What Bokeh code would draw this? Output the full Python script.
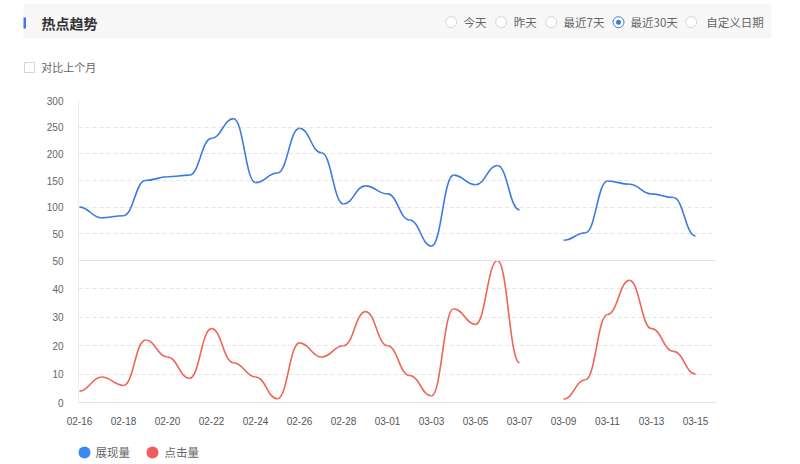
from bokeh.plotting import figure
from bokeh.models import Range1d, FixedTicker, CustomJSTickFormatter, Span
from bokeh.layouts import column
from bokeh.embed import file_html
from bokeh.resources import INLINE
from bokeh.core.properties import value

# ---------------- data ----------------
dates = ["02-16", "02-17", "02-18", "02-19", "02-20", "02-21", "02-22", "02-23",
         "02-24", "02-25", "02-26", "02-27", "02-28", "02-29", "03-01", "03-02",
         "03-03", "03-04", "03-05", "03-06", "03-07", "03-08", "03-09", "03-10",
         "03-11", "03-12", "03-13", "03-14", "03-15"]
impressions = [100, 80, 84, 150, 157, 160, 229, 266, 146, 164, 248, 202, 106, 140,
               125, 76, 27, 160, 142, 178, 95, None, 38, 52, 149, 143, 125, 118, 46]
clicks = [4, 9, 6, 22, 16, 8.5, 26, 14, 9, 1.3, 21, 16, 20, 32, 20, 9.5, 2.3, 33,
          27.5, 50, 14, None, 1.2, 8, 31, 43, 26, 18, 10]
top_ticks = [50, 100, 150, 200, 250, 300]
bottom_ticks = [0, 10, 20, 30, 40, 50]
x_tick_idx = list(range(0, len(dates), 2))
series_names = ["展现量", "点击量"]
radio_labels = ["今天", "昨天", "最近7天", "最近30天", "自定义日期"]

BLUE = "#3b7be0"
RED = "#ee6655"
CJK = value("Noto Sans CJK SC")

# ---------------- geometry of the two stacked panels ----------------
TOP_MAX, BOT_MAX = 300, 50
TOP_PX, BOT_PX = 160, 142
FRAME_PX = TOP_PX + BOT_PX
top_k = TOP_PX / TOP_MAX          # px per unit (top panel)
bot_k = BOT_PX / BOT_MAX          # px per unit (bottom panel)
main_start = TOP_MAX - FRAME_PX / top_k
bot_end = FRAME_PX / bot_k
X_PX = 22.0                       # px per day
SMOOTH = 0.45
OX = 1                            # page x of canvas origin


def smooth_bezier(xs, ys, smooth=SMOOTH):
    """Cubic segments with horizontal tangents at each data point."""
    out = dict(x0=[], y0=[], x1=[], y1=[], cx0=[], cy0=[], cx1=[], cy1=[])
    for i in range(1, len(xs)):
        a, b = ys[i - 1], ys[i]
        if a is None or b is None:
            continue
        dx = xs[i] - xs[i - 1]
        out["x0"].append(xs[i - 1]); out["y0"].append(a)
        out["x1"].append(xs[i]); out["y1"].append(b)
        out["cx0"].append(xs[i - 1] + dx * smooth); out["cy0"].append(a)
        out["cx1"].append(xs[i] - dx * smooth); out["cy1"].append(b)
    return out


def deco_fig(y0, y1):
    f = figure(width=784, height=y1 - y0, x_range=Range1d(OX, OX + 784), y_range=Range1d(y1, y0),
               x_axis_type=None, y_axis_type=None, toolbar_location=None,
               output_backend="svg", min_border=0, frame_align=False)
    f.outline_line_color = None
    f.grid.visible = False
    return f


# ---------------- header ----------------
hdr = deco_fig(0, 92)
hdr.quad(left=[24], right=[772], top=[3], bottom=[38], fill_color="#f7f7f7", line_color=None)
hdr.quad(left=[24], right=[26.5], top=[17], bottom=[28], fill_color=BLUE, line_color=None)
hdr.text(x=[42], y=[22], text=["热点趋势"], text_font=CJK, text_font_size="14px",
         text_font_style="bold", text_color="#333333", text_baseline="middle", text_align="left")
radio_cx = [451.7, 501.7, 551.7, 619, 691.7]
radio_tx = [464, 514.3, 564, 631, 706.7]
hdr.scatter(x=radio_cx, y=[21.7] * 5, size=11, fill_color="white",
            line_color=["#d6d6d6", "#d6d6d6", "#d6d6d6", BLUE, "#d6d6d6"], line_width=1)
hdr.scatter(x=[radio_cx[3]], y=[21.7], size=5, fill_color=BLUE, line_color=None)
hdr.text(x=radio_tx, y=[21.7] * 5, text=radio_labels, text_font=CJK, text_font_size="11.5px",
         text_color="#666666", text_baseline="middle", text_align="left")
hdr.rect(x=[30], y=[67], width=10, height=10, fill_color="white", line_color="#d6d6d6")
hdr.text(x=[41.7], y=[66.7], text=["对比上个月"], text_font=CJK, text_font_size="11px",
         text_color="#666666", text_baseline="middle", text_align="left")

# ---------------- chart ----------------
p = figure(width=784, height=340, toolbar_location=None, output_backend="svg",
           x_range=Range1d(-1.0 / X_PX, 636.0 / X_PX),
           y_range=Range1d(main_start, TOP_MAX), frame_align=False,
           min_border_left=78, min_border_right=69, min_border_top=8, min_border_bottom=30)
p.extra_y_ranges = {"clicks": Range1d(0, bot_end)}
p.outline_line_color = None
p.background_fill_color = "white"

ytick_pos = top_ticks + [main_start + b * bot_k / top_k for b in bottom_ticks]
yticker = FixedTicker(ticks=ytick_pos)
p.yaxis.ticker = yticker
p.yaxis.formatter = CustomJSTickFormatter(
    args=dict(off=main_start, k=bot_k / top_k),
    code="if (tick > 0.5) { return tick.toFixed(0); } return Math.round((tick - off) / k).toString();")
p.yaxis.axis_line_color = "#ececec"
p.yaxis.major_tick_line_color = None
p.yaxis.minor_tick_line_color = None
p.yaxis.major_tick_out = 0
p.yaxis.major_label_standoff = 15
p.yaxis.major_label_text_font = "Liberation Sans"
p.yaxis.major_label_text_font_size = "10px"
p.yaxis.major_label_text_color = "#666666"

p.xaxis.ticker = FixedTicker(ticks=x_tick_idx)
p.xaxis.formatter = CustomJSTickFormatter(
    args=dict(labels=dates),
    code="const i = Math.round(tick); return (i >= 0 && i < labels.length) ? labels[i] : '';")
p.xaxis.axis_line_color = "#e3e3e3"
p.xaxis.major_tick_line_color = None
p.xaxis.minor_tick_line_color = None
p.xaxis.major_tick_out = 0
p.xaxis.major_label_standoff = 14
p.xaxis.major_label_text_font = "Liberation Sans"
p.xaxis.major_label_text_font_size = "10px"
p.xaxis.major_label_text_color = "#555555"

p.xgrid.visible = False
p.ygrid.ticker = yticker
p.ygrid.grid_line_color = "#e4e4e4"
p.ygrid.grid_line_dash = "4 3"
p.add_layout(Span(location=0, dimension="width", line_color="#e3e3e3", line_width=1))

xs = list(range(len(dates)))
top_b = smooth_bezier(xs, impressions)
bot_b = smooth_bezier(xs, clicks)
p.bezier(source=top_b, x0="x0", y0="y0", x1="x1", y1="y1", cx0="cx0", cy0="cy0",
         cx1="cx1", cy1="cy1", line_color=BLUE, line_width=1.6)
p.bezier(source=bot_b, x0="x0", y0="y0", x1="x1", y1="y1", cx0="cx0", cy0="cy0",
         cx1="cx1", cy1="cy1", line_color=RED, line_width=1.6, y_range_name="clicks")

# ---------------- legend ----------------
leg = deco_fig(432, 462)
leg.scatter(x=[85, 153], y=[452, 452], size=12, fill_color=["#3f86f5", "#f25c5c"], line_color=None)
leg.text(x=[96, 165], y=[451.5, 451.5], text=series_names, text_font=CJK, text_font_size="11.5px",
         text_color="#666666", text_baseline="middle", text_align="left")

layout = column(hdr, p, leg, spacing=0)
open("out.html", "w").write(file_html(layout, INLINE))
